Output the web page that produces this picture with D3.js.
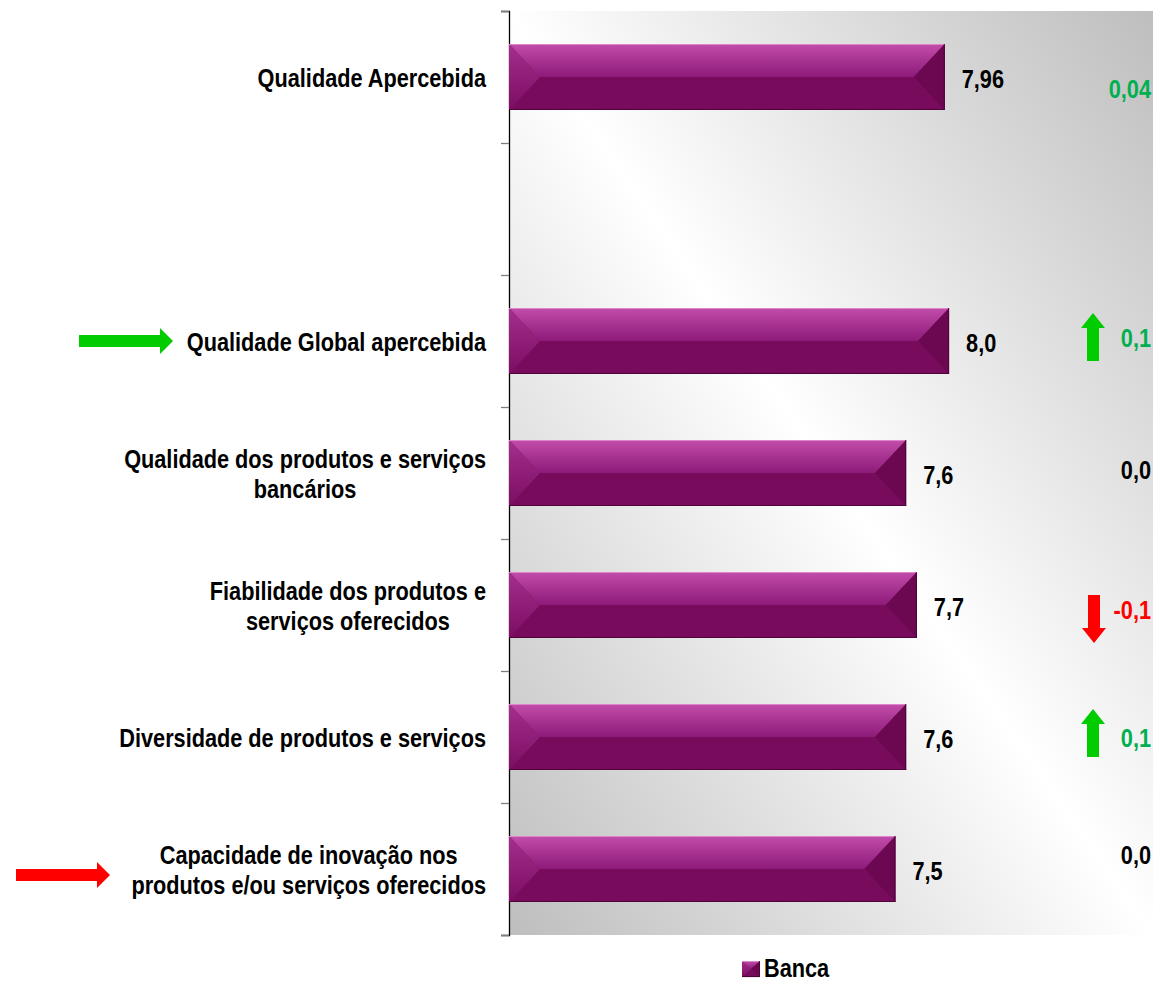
<!DOCTYPE html>
<html>
<head>
<meta charset="utf-8">
<script src="https://cdn.jsdelivr.net/npm/d3@7"></script>
<style>
  html, body { margin: 0; padding: 0; background: #ffffff; }
  svg { display: block; }
  text { font-family: "Liberation Sans", Arial, "DejaVu Sans", sans-serif; font-weight: bold; }
</style>
</head>
<body>
<svg id="chart" width="1153" height="983"></svg>
<script>
// Attribute labels (one row left blank as a spacer), top to bottom
const categories = [
  ["Qualidade Apercebida"],
  [""],
  ["Qualidade Global apercebida"],
  ["Qualidade dos produtos e serviços", "bancários"],
  ["Fiabilidade dos produtos e", "serviços oferecidos"],
  ["Diversidade de produtos e serviços"],
  ["Capacidade de inovação nos", "produtos e/ou serviços oferecidos"]
];
// Banca scores
const scores = [7.96, null, 8.0, 7.6, 7.7, 7.6, 7.5];
const scoreLabels = ["7,96", "", "8,0", "7,6", "7,7", "7,6", "7,5"];
// Change versus previous wave
const changes = [0.04, null, 0.1, 0.0, -0.1, 0.1, 0.0];
const changeLabels = ["0,04", "", "0,1", "0,0", "-0,1", "0,1", "0,0"];
// Trend arrow beside the change value
const trends = [null, null, "up", null, "down", "up", null];
// Highlight arrows to the left of the label
const highlights = [null, null, "green", null, null, null, "red"];
const seriesName = "Banca";

const plot = { left: 509, top: 11, right: 1153, bottom: 935 };
const svg = d3.select("#chart");
const defs = svg.append("defs");

// narrow bold type: regular bold face squeezed horizontally
const SX = 0.8685;
function narrowText(parent, X, Y, size, anchor) {
  return parent.append("text")
    .attr("transform", `scale(${SX},1)`)
    .attr("x", X / SX).attr("y", Y)
    .attr("font-size", size)
    .attr("text-anchor", anchor || "start");
}

// background: grey corners top-right / bottom-left, white along the other diagonal
const bg = defs.append("linearGradient").attr("id", "bgGrad")
  .attr("x1", 0).attr("y1", 1).attr("x2", 1).attr("y2", 0);
bg.append("stop").attr("offset", 0).attr("stop-color", "#bebebe");
bg.append("stop").attr("offset", 0.5).attr("stop-color", "#ffffff");
bg.append("stop").attr("offset", 1).attr("stop-color", "#bebebe");

const topGrad = defs.append("linearGradient").attr("id", "barTop")
  .attr("x1", 0).attr("y1", 0).attr("x2", 0).attr("y2", 1);
topGrad.append("stop").attr("offset", 0).attr("stop-color", "#c24ca9");
topGrad.append("stop").attr("offset", 1).attr("stop-color", "#8d1b7a");

const leftGrad = defs.append("linearGradient").attr("id", "barLeft")
  .attr("x1", 0).attr("y1", 0).attr("x2", 0).attr("y2", 1);
leftGrad.append("stop").attr("offset", 0).attr("stop-color", "#a2308d");
leftGrad.append("stop").attr("offset", 1).attr("stop-color", "#7d0c63");

svg.append("rect")
  .attr("x", plot.left).attr("y", plot.top)
  .attr("width", plot.right - plot.left).attr("height", plot.bottom - plot.top)
  .attr("fill", "url(#bgGrad)");

const x = d3.scaleLinear().domain([3.9, 9.9]).range([plot.left, plot.right]);
const idx = d3.range(categories.length);
const y = d3.scaleBand().domain(idx).range([plot.top, plot.bottom]).paddingInner(0.5).paddingOuter(0.25);
const yEdge = d3.scaleLinear().domain([0, categories.length]).range([plot.top, plot.bottom]);

// axis with ticks on band boundaries
const axisG = svg.append("g").attr("transform", `translate(${plot.left},0)`)
  .call(d3.axisLeft(yEdge).tickValues(d3.range(categories.length + 1)).tickSize(8).tickFormat(""));
axisG.select(".domain").attr("stroke", "#000").attr("stroke-width", 1.3);
axisG.selectAll(".tick line").attr("stroke", "#7f7f7f").attr("stroke-width", 1.3);

// bevelled bars
function drawBar(g, x0, x1, y0, h) {
  const y1 = y0 + h, ym = y0 + h / 2, b = Math.min(31, (x1 - x0) / 2);
  g.append("rect").attr("x", x0).attr("y", y0).attr("width", x1 - x0).attr("height", h).attr("fill", "#790b5d");
  g.append("path").attr("d", `M${x0},${y0}L${x1},${y0}L${x1 - b},${ym}L${x0 + b},${ym}Z`).attr("fill", "url(#barTop)");
  g.append("path").attr("d", `M${x0},${y0}L${x0 + b},${ym}L${x0},${y1}Z`).attr("fill", "url(#barLeft)");
  g.append("path").attr("d", `M${x1},${y0}L${x1 - b},${ym}L${x1},${y1}Z`).attr("fill", "#6c0851");
  g.append("line").attr("x1", x0).attr("x2", x1).attr("y1", y0 + 0.5).attr("y2", y0 + 0.5).attr("stroke", "#dd86cc").attr("stroke-width", 1);
  g.append("line").attr("x1", x0).attr("x2", x1).attr("y1", y1 - 0.5).attr("y2", y1 - 0.5).attr("stroke", "#4e0339").attr("stroke-width", 1.2);
  g.append("line").attr("x1", x1 - 0.5).attr("x2", x1 - 0.5).attr("y1", y0).attr("y2", y1).attr("stroke", "#4e0339").attr("stroke-width", 1);
}

const bars = svg.append("g");
idx.forEach(i => {
  if (scores[i] == null) return;
  drawBar(bars.append("g"), x(x.domain()[0]), x(scores[i]), y(i), y.bandwidth());
});

const fs = 25;
const mid = i => y(i) + y.bandwidth() / 2;

// value labels
const valG = svg.append("g");
idx.forEach(i => {
  if (scores[i] == null) return;
  narrowText(valG, x(scores[i]) + 17, mid(i) + 2, fs).attr("dy", "0.35em").attr("fill", "#000").text(scoreLabels[i]);
});

// category labels: centred block whose widest line ends at labelRight
const labelRight = 486, lineH = 30;
const catG = svg.append("g");
idx.forEach(i => {
  const lines = categories[i];
  if (!lines[0]) return;
  const t = narrowText(catG, 0, 0, fs, "middle").attr("fill", "#000");
  const tspans = lines.map((ln, k) =>
    t.append("tspan").attr("x", 0)
      .attr("y", mid(i) + 1 + (k - (lines.length - 1) / 2) * lineH)
      .attr("dy", "0.35em").text(ln));
  const w = d3.max(tspans, s => s.node().getComputedTextLength()) * SX;
  tspans.forEach(s => s.attr("x", (labelRight - w / 2) / SX));
});

// change values
const noteNudge = [12, 0, -3, -3, 5, 1, -14];
const changeColor = v => v > 0 ? "#00b050" : v < 0 ? "#ff0000" : "#000000";
const chG = svg.append("g");
idx.forEach(i => {
  if (changes[i] == null) return;
  narrowText(chG, 1151, mid(i) + noteNudge[i], fs, "end")
    .attr("dy", "0.35em").attr("fill", changeColor(changes[i])).text(changeLabels[i]);
});

// vertical trend arrows
function vArrow(cx, cy, dir, color) {
  const L = 48, sw = 12, hw = 24, hl = 15, s = dir === "up" ? -1 : 1;
  const tip = cy + s * L / 2, base = cy - s * L / 2, neck = tip - s * hl;
  const p = [[cx - sw / 2, base], [cx - sw / 2, neck], [cx - hw / 2, neck], [cx, tip],
             [cx + hw / 2, neck], [cx + sw / 2, neck], [cx + sw / 2, base]];
  svg.append("path").attr("d", d3.line()(p) + "Z").attr("fill", color);
}
idx.forEach(i => {
  if (!trends[i]) return;
  if (trends[i] === "up") vArrow(1093, mid(i) - 4, "up", "#00cc00");
  else vArrow(1094, mid(i) + 14, "down", "#ff0000");
});

// horizontal highlight arrows
function hArrow(x0, x1, cy, color) {
  const sh = 12, hh = 26, hl = 13;
  const p = [[x0, cy - sh / 2], [x1 - hl, cy - sh / 2], [x1 - hl, cy - hh / 2], [x1, cy],
             [x1 - hl, cy + hh / 2], [x1 - hl, cy + sh / 2], [x0, cy + sh / 2]];
  svg.append("path").attr("d", d3.line()(p) + "Z").attr("fill", color);
}
idx.forEach(i => {
  if (!highlights[i]) return;
  if (highlights[i] === "green") hArrow(79, 173, mid(i), "#00cc00");
  else hArrow(16, 110, mid(i) + 6, "#ff0000");
});

// legend
const lg = svg.append("g").attr("transform", "translate(742,961)");
drawBar(lg, 0, 18, 0, 16);
narrowText(lg, 22, 7, 25).attr("dy", "0.36em").attr("fill", "#000").text(seriesName);
</script>
</body>
</html>
